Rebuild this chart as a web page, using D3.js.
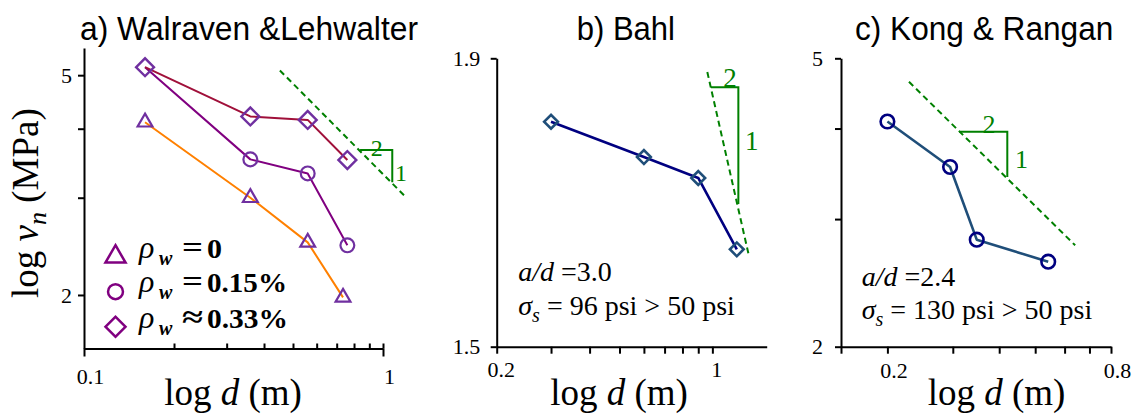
<!DOCTYPE html>
<html>
<head>
<meta charset="utf-8">
<script src="https://cdn.jsdelivr.net/npm/d3@7"></script>
<style>
  body { margin: 0; background: #fff; }
  svg { display: block; }
  text { white-space: pre; }
</style>
</head>
<body>
<svg id="chart" width="1144" height="417"></svg>
<script>
// ---------- data ----------
// a) Walraven & Lehwalter: nominal shear stress v_n (MPa) vs depth d (m)
const walravenDepth0   = [0.16, 0.36, 0.56, 0.735];
const walravenShear0   = [4.11, 3.00, 2.49, 1.98];      // rho_w = 0
const walravenDepth    = [0.16, 0.36, 0.56, 0.76];
const walravenShear015 = [5.17, 3.52, 3.32, 2.46];      // rho_w = 0.15%
const walravenShear033 = [5.17, 4.21, 4.15, 3.51];      // rho_w ~ 0.33%

// b) Bahl: log v_n vs depth d (m)
const bahlDepth    = [0.3, 0.6, 0.9, 1.2];
const bahlLogShear = [1.812, 1.763, 1.734, 1.635];

// c) Kong & Rangan: v_n (MPa) vs depth d (m)
const kongDepth = [0.2, 0.295, 0.348, 0.542];
const kongShear = [4.09, 3.54, 2.81, 2.62];

// tick values and which of them carry a label
const ticksXa  = [0.1, 0.2, 0.3, 0.4, 0.5, 0.6, 0.7, 0.8, 0.9, 1];
const labelsXa = [0.1, 1];
const ticksYa  = [2, 3, 4, 5];
const labelsYa = [2, 5];
const ticksXb  = [0.2, 0.3, 0.4, 0.5, 0.6, 0.7, 0.8, 0.9, 1];
const labelsXb = [0.2, 1];
const ticksYb  = [1.5, 1.9];
const labelsYb = [1.5, 1.9];
const ticksXc  = [0.15, 0.2, 0.3, 0.4, 0.5, 0.6, 0.7, 0.8];
const labelsXc = [0.2, 0.8];
const ticksYc  = [2, 3, 4, 5];
const labelsYc = [2, 5];

// size-effect slope guides (slope -1/2 on log-log axes): dashed line, 2:1 triangle, labels
const guideLineA = [[0.452, 5.10], [1.176, 3.03]];
const guideTriA  = [[0.838, 3.66], [1.074, 3.66], [1.074, 3.20]];
const guideTxtA  = [["2", 0.953, 3.57], ["1", 1.149, 3.21]];
const guideLineB = [[0.963, 1.881], [1.308, 1.6295]];
const guideTriB  = [[0.99, 1.86], [1.214, 1.86], [1.214, 1.698]];
const guideTxtB  = [["2", 1.141, 1.860], ["1", 1.342, 1.773]];
const guideLineC = [[0.2286, 4.64], [0.6406, 2.76]];
const guideTriC  = [[0.312, 3.96], [0.4206, 3.96], [0.4206, 3.43]];
const guideTxtC  = [["2", 0.3756, 3.94], ["1", 0.459, 3.53]];

// ---------- setup ----------
const SERIF = "'Liberation Serif','Times New Roman',Times,serif";
const SANS  = "'Liberation Sans',Arial,Helvetica,sans-serif";
const GREEN = "#008000";
const svg = d3.select("#chart");

const zip = (xs, ys) => xs.map((d, i) => ({ d, v: ys[i] }));

function styleAxis(g) {
  g.attr("font-family", SERIF).attr("font-size", 22);
  g.select(".domain").attr("stroke", "#000").attr("stroke-width", 2);
  g.selectAll(".tick line").attr("stroke", "#000").attr("stroke-width", 2);
  g.selectAll("text").attr("font-family", SERIF).attr("font-size", 22).attr("fill", "#000");
}

function drawAxes(x, y, o) {
  const baseY = y.range()[0];
  const baseX = x.range()[0];
  const fmt = labels => d => labels.includes(d) ? String(d) : "";

  // x axis
  if (o.innerMinor) {
    const minor = svg.append("g").attr("transform", `translate(0,${baseY})`)
      .call(d3.axisBottom(x).tickValues(o.xTicks.filter(t => !o.xLabels.includes(t) || t === 1))
        .tickSize(-5).tickSizeOuter(0).tickFormat(""));
    styleAxis(minor);
    const major = svg.append("g").attr("transform", `translate(0,${baseY})`)
      .call(d3.axisBottom(x).tickValues(o.xLabels).tickSize(8).tickSizeOuter(0).tickFormat(d => String(d)));
    styleAxis(major);
    major.select(".domain").remove();
    major.selectAll("text").attr("y", o.xLabelY).attr("dy", 0).attr("dx", o.xLabelDx);
  } else {
    const gx = svg.append("g").attr("transform", `translate(0,${baseY})`)
      .call(d3.axisBottom(x).tickValues(o.xTicks).tickSize(7).tickSizeOuter(0).tickFormat(fmt(o.xLabels)));
    styleAxis(gx);
    gx.selectAll("text").attr("y", o.xLabelY).attr("dy", 0).attr("dx", o.xLabelDx);
  }

  // y axis
  const gy = svg.append("g").attr("transform", `translate(${baseX},0)`)
    .call(d3.axisLeft(y).tickValues(o.yTicks).tickSize(6).tickSizeOuter(0)
      .tickPadding(o.yPad).tickFormat(fmt(o.yLabels)));
  styleAxis(gy);

  // x-axis title
  const t = svg.append("text")
    .attr("x", o.xTitleX).attr("y", 405)
    .attr("text-anchor", "middle")
    .attr("font-family", SERIF).attr("font-size", 37);
  t.append("tspan").text("log ");
  t.append("tspan").attr("font-style", "italic").text("d");
  t.append("tspan").text(" (m)");
}

function drawGuide(x, y, line, tri, txt, fontSize) {
  svg.append("path")
    .attr("d", d3.line().x(p => x(p[0])).y(p => y(p[1]))(line))
    .attr("fill", "none").attr("stroke", GREEN).attr("stroke-width", 2)
    .attr("stroke-dasharray", "6,4");
  svg.append("path")
    .attr("d", d3.line().x(p => x(p[0])).y(p => y(p[1]))(tri))
    .attr("fill", "none").attr("stroke", GREEN).attr("stroke-width", 2);
  svg.selectAll(null).data(txt).enter().append("text")
    .attr("x", p => x(p[1])).attr("y", p => y(p[2]))
    .attr("text-anchor", "middle")
    .attr("font-family", SERIF).attr("font-size", fontSize).attr("fill", GREEN)
    .text(p => p[0]);
}

function drawSeries(x, y, pts, lineColor, lineWidth) {
  svg.append("path")
    .datum(pts)
    .attr("d", d3.line().x(p => x(p.d)).y(p => y(p.v)))
    .attr("fill", "none").attr("stroke", lineColor).attr("stroke-width", lineWidth)
    .attr("stroke-linejoin", "round");
}

function drawMarkers(x, y, pts, type, size, color, width, rotate) {
  svg.selectAll(null).data(pts).enter().append("path")
    .attr("d", d3.symbol().type(type).size(size)())
    .attr("transform", p => `translate(${x(p.d)},${y(p.v)})${rotate ? " rotate(45)" : ""}`)
    .attr("fill", "none").attr("stroke", color).attr("stroke-width", width);
}

function title(txt, x0, width) {
  svg.append("text")
    .attr("x", x0).attr("y", 40)
    .attr("font-family", SANS).attr("font-size", 33)
    .attr("textLength", width).attr("lengthAdjust", "spacingAndGlyphs")
    .text(txt);
}

// ---------- a) Walraven & Lehwalter ----------
const xA = d3.scaleLog().domain([0.1, 1]).range([84, 383]);
const yA = d3.scaleLog().domain([1.6, 5.6]).range([348.5, 48]);

drawAxes(xA, yA, {
  xTicks: ticksXa, xLabels: labelsXa, innerMinor: true,
  xLabelY: 35, xLabelDx: 6,
  yTicks: ticksYa, yLabels: labelsYa, yPad: 6,
  xTitleX: 233
});

const ptsA0   = zip(walravenDepth0, walravenShear0);
const ptsA015 = zip(walravenDepth, walravenShear015);
const ptsA033 = zip(walravenDepth, walravenShear033);

drawGuide(xA, yA, guideLineA, guideTriA, guideTxtA, 24);
drawSeries(xA, yA, ptsA0, "#FF8000", 2);
drawSeries(xA, yA, ptsA015, "#800080", 2);
drawSeries(xA, yA, ptsA033, "#A0103A", 2);

const MARK_A = "#7030A0";
drawMarkers(xA, yA, ptsA0, d3.symbolTriangle, 95, MARK_A, 2.2, false);
// where a 0.15% point coincides with a 0.33% point, the diamond marks both
const shared = p => ptsA033.some(q => q.d === p.d && q.v === p.v);
drawMarkers(xA, yA, ptsA015.filter(p => !shared(p)), d3.symbolCircle, 150, MARK_A, 2.2, false);
drawMarkers(xA, yA, ptsA033, d3.symbolSquare, 160, MARK_A, 2.4, true);

title("a) Walraven &Lehwalter", 80, 338);

// y-axis title
const yLab = svg.append("text")
  .attr("transform", "translate(37.5,298) rotate(-90)")
  .attr("font-family", SERIF).attr("font-size", 37);
yLab.append("tspan").text("log ");
yLab.append("tspan").attr("font-style", "italic").text("ν");
yLab.append("tspan").attr("font-style", "italic").attr("font-size", 26).attr("dy", 8).text("n");
yLab.append("tspan").attr("dy", -8).text(" (MPa)");

// legend
const LEG = "#800080";
const legendRows = [
  { sym: d3.symbolTriangle, size: 175, rot: false, op: "=", val: "0",     w: 15, y: 258.3 },
  { sym: d3.symbolCircle,   size: 175, rot: false, op: "=", val: "0.15%", w: 80, y: 291.7 },
  { sym: d3.symbolSquare,   size: 200, rot: true,  op: "≈", val: "0.33%", w: 81, y: 328.3 }
];
legendRows.forEach(r => {
  const cy = r.sym === d3.symbolCircle ? r.y : r.y - 1.5;
  svg.append("path")
    .attr("d", d3.symbol().type(r.sym).size(r.size)())
    .attr("transform", `translate(115.5,${cy})${r.rot ? " rotate(45)" : ""}`)
    .attr("fill", "none").attr("stroke", LEG).attr("stroke-width", 2.5);
  svg.append("text").attr("x", 139).attr("y", r.y)
    .attr("font-family", SERIF).attr("font-style", "italic").attr("font-size", 32).text("ρ");
  svg.append("text").attr("x", 159).attr("y", r.y + 7)
    .attr("font-family", SERIF).attr("font-style", "italic").attr("font-weight", "bold")
    .attr("font-size", 20).text("w");
  svg.append("text").attr("x", 182).attr("y", r.y - 1)
    .attr("font-family", SERIF).attr("font-weight", "bold").attr("font-size", 30)
    .attr("textLength", 21).attr("lengthAdjust", "spacingAndGlyphs").text(r.op);
  svg.append("text").attr("x", 207).attr("y", r.y)
    .attr("font-family", SERIF).attr("font-weight", "bold").attr("font-size", 28)
    .attr("textLength", r.w).attr("lengthAdjust", "spacingAndGlyphs").text(r.val);
});

// ---------- b) Bahl ----------
const xB = d3.scaleLog().domain([0.2, 1.5]).range([496.7, 766.7]);
const yB = d3.scaleLinear().domain([1.5, 1.9]).range([346.7, 58.3]);

drawAxes(xB, yB, {
  xTicks: ticksXb, xLabels: labelsXb, innerMinor: false,
  xLabelY: 30, xLabelDx: 4,
  yTicks: ticksYb, yLabels: labelsYb, yPad: 10.5,
  xTitleX: 619
});

const ptsB = zip(bahlDepth, bahlLogShear);
drawGuide(xB, yB, guideLineB, guideTriB, guideTxtB, 27);
drawSeries(xB, yB, ptsB, "#000080", 2.6);
drawMarkers(xB, yB, ptsB, d3.symbolSquare, 95, "#1F4E79", 2.6, true);

title("b) Bahl", 576.7, 98.3);

function note(x0, y1, y2, ratio, stress) {
  const t1 = svg.append("text").attr("x", x0).attr("y", y1)
    .attr("font-family", SERIF).attr("font-size", 28);
  t1.append("tspan").attr("font-style", "italic").text("a/d");
  t1.append("tspan").text(" =" + ratio);
  const t2 = svg.append("text").attr("x", x0).attr("y", y2)
    .attr("font-family", SERIF).attr("font-size", 28);
  t2.append("tspan").attr("font-style", "italic").text("σ");
  t2.append("tspan").attr("font-style", "italic").attr("font-size", 20).attr("dy", 7).text("s");
  t2.append("tspan").attr("dy", -7).text(" = " + stress + " psi > 50 psi");
}
note(xB.range()[0] + 21.6, 281, 315, "3.0", "96");

// ---------- c) Kong & Rangan ----------
const xC = d3.scaleLog().domain([0.15, 0.8]).range([841, 1111]);
const yC = d3.scaleLog().domain([2, 5]).range([346.7, 58.3]);

drawAxes(xC, yC, {
  xTicks: ticksXc, xLabels: labelsXc, innerMinor: false,
  xLabelY: 31, xLabelDx: 6,
  yTicks: ticksYc, yLabels: labelsYc, yPad: 12,
  xTitleX: 996.5
});

const ptsC = zip(kongDepth, kongShear);
drawGuide(xC, yC, guideLineC, guideTriC, guideTxtC, 26);
drawSeries(xC, yC, ptsC, "#1F4E79", 2.6);
drawMarkers(xC, yC, ptsC, d3.symbolCircle, 145, "#000080", 2.6, false);

title("c) Kong & Rangan", 855, 258.3);

note(xC.range()[0] + 20.7, 286, 319.3, "2.4", "130");
</script>
</body>
</html>
